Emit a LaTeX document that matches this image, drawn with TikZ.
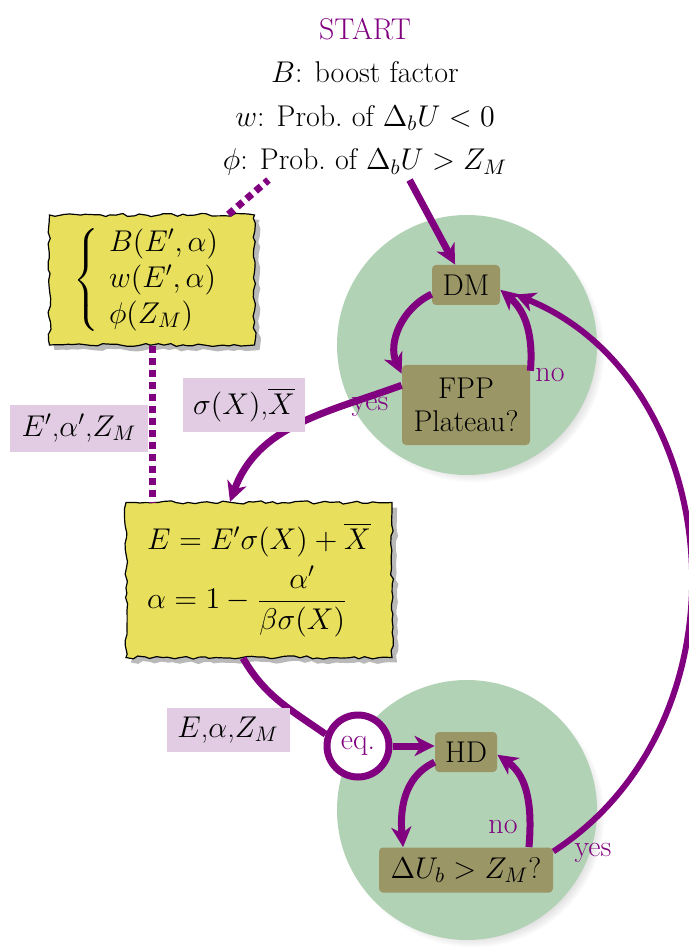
\documentclass[tikz,border=0pt]{standalone}
\usepackage{fix-cm}
\usepackage{amsmath}
\usetikzlibrary{arrows.meta,shadows,decorations.pathmorphing,backgrounds,calc}
\definecolor{mpurple}{RGB}{128,0,128}
\definecolor{cgreen}{RGB}{178,210,182}
\definecolor{colive}{RGB}{154,150,102}
\definecolor{cyellow}{RGB}{232,224,92}
\definecolor{cpink}{RGB}{226,204,228}
\begin{document}
\begin{tikzpicture}[x=0.5pt,y=-0.5pt, font=\fontsize{15}{18}\selectfont,
  conn/.style={draw=mpurple, line width=3.5pt},
  arr/.style={conn, -{Stealth[length=10pt,width=10pt,inset=3pt]}},
  dotline/.style={draw=mpurple, line width=3.5pt, dash pattern=on 3.5pt off 2.5pt},
  olivebox/.style={fill=colive, rounded corners=2pt, inner sep=0pt, align=center},
  paper/.style={fill=cyellow, draw=black, line width=0.6pt, decorate,
     decoration={random steps,segment length=3pt,amplitude=0.8pt},
     drop shadow={shadow xshift=2.5pt,shadow yshift=-2.5pt,fill=gray!55,opacity=1}, inner sep=0pt},
  tag/.style={fill=cpink, inner sep=0pt},
  ptext/.style={text=mpurple},
  stage/.style={circle, fill=cgreen, minimum size=130pt, inner sep=0pt,
     circular drop shadow={shadow scale=1.01, shadow xshift=3pt, shadow yshift=-3pt, opacity=0.45}},
]
\useasboundingbox (0,0) rectangle (689,951);

\node[align=center, font=\fontsize{15}{21.7}\selectfont, inner sep=2pt] (info) at (365,97)
  {\textcolor{mpurple}{START}\\ $B$: boost factor\\ $w$: Prob.\ of $\Delta_b U<0$\\ $\phi$: Prob.\ of $\Delta_b U>Z_M$};

\node[paper, minimum width=102.5pt, minimum height=65pt] (box1) at (152,280)
  {$\left\{\begin{array}{l} B(E',\alpha)\\ w(E',\alpha)\\ \phi(Z_M)\end{array}\right.$};
\node[paper, minimum width=133pt, minimum height=77.5pt] (box2) at (259,580)
  {$\begin{array}{l} E=E'\sigma(X)+\overline{X}\\[3pt] \alpha=1-\dfrac{\alpha'}{\beta\sigma(X)}\end{array}$};

\node[olivebox, minimum width=34pt, minimum height=20pt] (dm) at (466,285) {DM};
\node[olivebox, minimum width=64pt, minimum height=40pt, font=\fontsize{15}{16.5}\selectfont] (fpp) at (466,405) {FPP\\Plateau?};
\node[olivebox, minimum width=31pt, minimum height=20pt] (hd) at (466,752) {HD};
\node[olivebox, minimum width=87pt, minimum height=22.5pt] (dq) at (466,870) {$\Delta U_b>Z_M$?};

\node[circle, draw=mpurple, line width=3.5pt, fill=white, minimum size=31pt, inner sep=0pt, text=mpurple] (eq) at (358,746) {eq.};

\begin{scope}[on background layer]
\node[stage] (s1) at (467,345) {};
\node[stage] (s2) at (467,810) {};
\end{scope}

\node[ptext] (yes1) at (370,407) {yes};
\node[ptext] (no1) at (550,375) {no};
\node[ptext] (no2) at (503,827) {no};
\node[ptext] (yes2) at (593,853) {yes};

\draw[dotline] (box1) -- (info);
\draw[dotline] (box1.south) -- (box1.south |- box2.north);
\draw[arr] (info) -- (dm);
\draw[arr] (dm.195) to[out=205,in=115] (fpp.154);
\draw[arr] (fpp.28) to[out=85,in=-40] (dm.-8);
\draw[arr] (fpp.163) to[out=200,in=70] ([xshift=-14.5pt]box2.north);
\draw[conn] ([xshift=-8pt]box2.south) to[out=-60,in=145] (eq.160);
\draw[arr] (eq.east) -- (eq.east -| hd.west);
\draw[arr] (hd.198) to[out=205,in=95] (dq.160);
\draw[arr] (dq.20) to[out=85,in=-35] (hd.-5);
\draw[arr, line width=3pt, shorten >=8pt] (dq.12) to[out=33,in=-22,looseness=1.1] (dm.-6);

\node[tag, minimum width=69pt, minimum height=23.5pt] (t1) at (79,428) {$E'$,$\alpha'$,$Z_M$};
\node[tag, minimum width=61pt, minimum height=27pt] (t2) at (244,405) {$\sigma(X)$,$\overline{X}$};
\node[tag, minimum width=61.5pt, minimum height=22pt] (t3) at (228,730) {$E$,$\alpha$,$Z_M$};
\end{tikzpicture}
\end{document}
